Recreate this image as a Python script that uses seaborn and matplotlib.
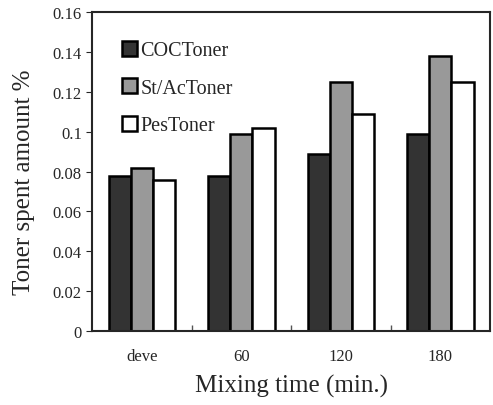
import pandas as pd
import numpy as np
import matplotlib
matplotlib.use("Agg")
import matplotlib.pyplot as plt
import seaborn as sns
from matplotlib.ticker import FormatStrFormatter

# Toner spent amount vs mixing time
times = ["deve", "60", "120", "180"]
toners = ["COCToner", "St/AcToner", "PesToner"]
coc = [0.078, 0.078, 0.089, 0.099]
stac = [0.082, 0.099, 0.125, 0.138]
pes = [0.076, 0.102, 0.109, 0.125]

df = pd.DataFrame({
    "time": times * 3,
    "toner": [t for t in toners for _ in times],
    "amount": coc + stac + pes,
})

sns.set_style("ticks")
plt.rcParams["font.family"] = ["Liberation Serif", "DejaVu Serif"]

fig = plt.figure(figsize=(4.93, 4.06), dpi=100)
ax = fig.add_axes([0.187, 0.182, 0.807, 0.786])

sns.barplot(data=df, x="time", y="amount", hue="toner", order=times,
            hue_order=toners, palette=["#333333", "#999999", "#ffffff"],
            edgecolor="black", linewidth=1.8, width=0.67, ax=ax)

ax.set_ylim(0, 0.16)
ax.set_yticks(np.arange(0, 0.161, 0.02))
ax.yaxis.set_major_formatter(FormatStrFormatter("%g"))
ax.set_xlim(-0.5, 3.5)

# ticks at group boundaries, pointing in
ax.set_xticks([0.5, 1.5, 2.5])
ax.set_xticklabels([])
ax.tick_params(axis="x", direction="in", length=4, width=1, color="#555555")
ax.set_xticks(range(len(times)), minor=True)
ax.set_xticklabels(times, minor=True, fontsize=12)
ax.tick_params(axis="x", which="minor", length=0, pad=12)
ax.tick_params(axis="y", direction="out", length=4, labelsize=12)

for s in ax.spines.values():
    s.set_linewidth(1.5)
    s.set_visible(True)

ax.set_xlabel("Mixing time (min.)", fontsize=18, labelpad=7)
ax.set_ylabel("Toner spent amount %", fontsize=18)
ax.yaxis.set_label_coords(-0.143, 0.47)

ax.legend(loc="upper left", bbox_to_anchor=(0.055, 0.935), frameon=False,
          fontsize=14.5, handlelength=0.75, handleheight=0.75, handletextpad=0.15,
          labelspacing=0.9, borderaxespad=0)

fig.savefig("out.png", dpi=100)
